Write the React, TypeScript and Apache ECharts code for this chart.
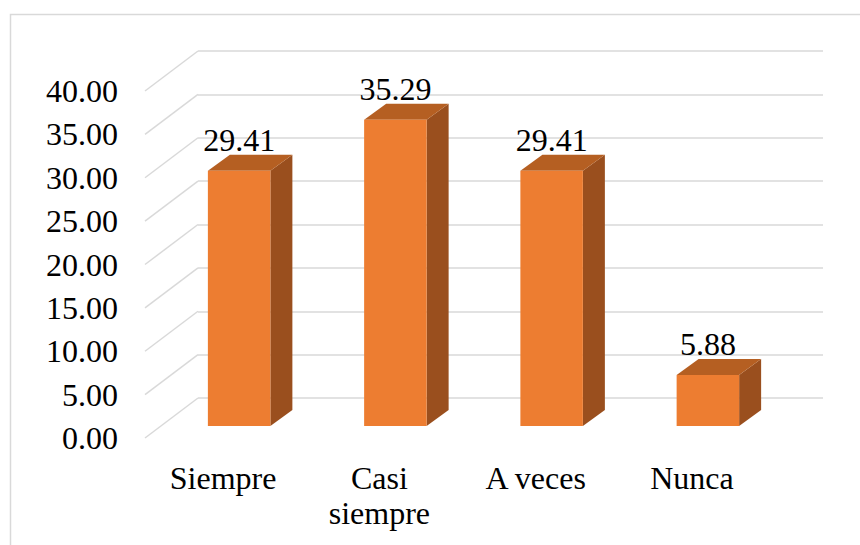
import React, { useEffect, useRef } from "react";
import * as echarts from "echarts";

const categories = ["Siempre", "Casi\nsiempre", "A veces", "Nunca"];
const values = [29.41, 35.29, 29.41, 5.88];
const yTicks = [0, 5, 10, 15, 20, 25, 30, 35, 40];

const FONT = '"Liberation Serif", "Times New Roman", serif';
const WALL_DX = 53;
const WALL_DY = -40;
const BAR_DX = 16;
const BAR_DY = -12;
const DEPTH_DX = 22;
const DEPTH_DY = -16;

export default function App() {
  const ref = useRef<HTMLDivElement>(null);
  useEffect(() => {
    if (!ref.current) return;
    const chart = echarts.init(ref.current, null, { renderer: "svg" });
    const option: any = {
      animation: false,
      backgroundColor: "#ffffff",
      graphic: [
        {
          type: "rect",
          shape: { x: 10.5, y: 14.5, width: 900, height: 600 },
          style: { fill: "none", stroke: "#d9d9d9", lineWidth: 1.5 },
          silent: true,
        },
      ],
      grid: [
        { left: 145, right: 90, top: 91, bottom: 107 },
        { left: 198, right: 37, top: 51, bottom: 147 },
      ],
      xAxis: [
        {
          gridIndex: 0,
          type: "category",
          data: categories,
          axisLine: { show: false },
          axisTick: { show: false },
          axisLabel: {
            interval: 0,
            color: "#000",
            fontFamily: FONT,
            fontSize: 32,
            lineHeight: 35,
            margin: 22,
          },
        },
        {
          gridIndex: 1,
          type: "category",
          data: categories,
          show: false,
        },
      ],
      yAxis: [
        {
          gridIndex: 0,
          type: "value",
          min: 0,
          max: 40,
          interval: 5,
          axisLine: { show: false },
          axisTick: { show: false },
          splitLine: { show: false },
          axisLabel: {
            color: "#000",
            fontFamily: FONT,
            fontSize: 32,
            margin: 27,
            formatter: (v: number) => v.toFixed(2),
          },
        },
        {
          gridIndex: 1,
          type: "value",
          min: 0,
          max: 40,
          interval: 5,
          axisLine: { show: false },
          axisTick: { show: false },
          axisLabel: { show: false },
          splitLine: { show: true, lineStyle: { color: "#d9d9d9", width: 1.5 } },
        },
      ],
      series: [
        {
          type: "custom",
          xAxisIndex: 0,
          yAxisIndex: 0,
          data: yTicks.map((v) => [0, v]),
          encode: { x: 0, y: 1 },
          silent: true,
          renderItem: (params: any, api: any) => {
            const y = api.coord([0, api.value(1)])[1];
            const x0 = params.coordSys.x;
            return {
              type: "line",
              shape: { x1: x0, y1: y, x2: x0 + WALL_DX, y2: y + WALL_DY },
              style: { stroke: "#d9d9d9", lineWidth: 1.5 },
            };
          },
        },
        {
          type: "custom",
          xAxisIndex: 0,
          yAxisIndex: 0,
          data: values.map((v, i) => [i, v]),
          encode: { x: 0, y: 1 },
          renderItem: (params: any, api: any) => {
            const i = api.value(0);
            const v = api.value(1);
            const base = api.coord([i, 0]);
            const top = api.coord([i, v]);
            const band = api.size([1, 0])[0];
            const w = band * 0.4;
            const L = base[0] - w / 2 + BAR_DX;
            const R = base[0] + w / 2 + BAR_DX;
            const B = base[1] + BAR_DY;
            const T = top[1] + BAR_DY;
            return {
              type: "group",
              children: [
                {
                  type: "polygon",
                  shape: {
                    points: [
                      [R, T],
                      [R + DEPTH_DX, T + DEPTH_DY],
                      [R + DEPTH_DX, B + DEPTH_DY],
                      [R, B],
                    ],
                  },
                  style: { fill: "#9A4F1E" },
                },
                {
                  type: "polygon",
                  shape: {
                    points: [
                      [L, T],
                      [R, T],
                      [R + DEPTH_DX, T + DEPTH_DY],
                      [L + DEPTH_DX, T + DEPTH_DY],
                    ],
                  },
                  style: { fill: "#B55F22" },
                },
                {
                  type: "rect",
                  shape: { x: L, y: T, width: R - L, height: B - T },
                  style: { fill: "#ED7D31" },
                },
                {
                  type: "text",
                  style: {
                    text: v.toFixed(2),
                    x: (L + R) / 2,
                    y: T + DEPTH_DY - 15,
                    fill: "#000",
                    fontFamily: FONT,
                    fontSize: 32,
                    align: "center",
                    verticalAlign: "middle",
                  },
                },
              ],
            };
          },
        },
      ],
    };
    chart.setOption(option);
    return () => chart.dispose();
  }, []);
  return (
    <div
      ref={ref}
      style={{ position: "fixed", left: 0, top: 0, width: 860, height: 545 }}
    />
  );
}
